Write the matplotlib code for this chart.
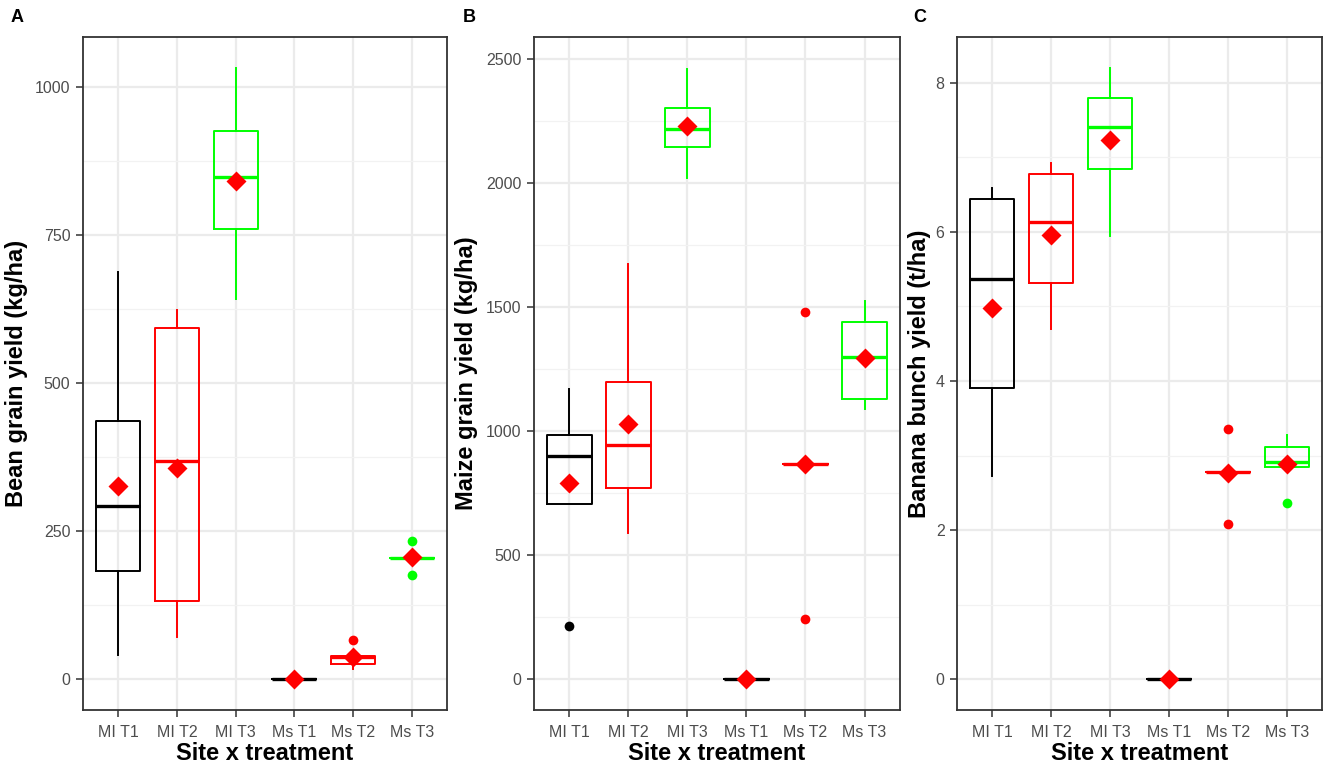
import matplotlib.pyplot as plt
from matplotlib.ticker import MultipleLocator

plt.rcParams['font.family'] = ['Liberation Sans', 'DejaVu Sans']

groups = ['MI T1', 'MI T2', 'MI T3', 'Ms T1', 'Ms T2', 'Ms T3']
colors = ['black', '#FF0000', '#00FF00', 'black', '#FF0000', '#00FF00']

# Panel A - bean grain yield (kg/ha)
bean_whislo = [41, 72, 642, 0, 17, 205]
bean_q1 = [182, 132, 760, 0, 25, 205]
bean_med = [292, 369, 848, 0, 38, 205]
bean_q3 = [435, 592, 925, 0, 39, 205]
bean_whishi = [688, 624, 1031, 0, 39, 205]
bean_mean = [326, 356, 841, 0, 37, 206]
bean_fliers = [[], [], [], [], [66], [234, 176]]

# Panel B - maize grain yield (kg/ha)
maize_whislo = [706, 589, 2022, 0, 868, 1087]
maize_q1 = [706, 771, 2144, 0, 868, 1128]
maize_med = [899, 943, 2219, 0, 868, 1298]
maize_q3 = [984, 1196, 2302, 0, 868, 1439]
maize_whishi = [1170, 1674, 2460, 0, 868, 1526]
maize_mean = [791, 1030, 2229, 0, 868, 1294]
maize_fliers = [[213], [], [], [], [1480, 241], []]

# Panel C - banana bunch yield (t/ha)
banana_whislo = [2.73, 4.70, 5.94, 0, 2.78, 2.85]
banana_q1 = [3.91, 5.31, 6.84, 0, 2.78, 2.85]
banana_med = [5.36, 6.13, 7.41, 0, 2.78, 2.91]
banana_q3 = [6.44, 6.78, 7.79, 0, 2.78, 3.11]
banana_whishi = [6.59, 6.92, 8.19, 0, 2.78, 3.27]
banana_mean = [4.98, 5.96, 7.23, 0, 2.76, 2.89]
banana_fliers = [[], [], [], [], [3.35, 2.08], [2.37]]


def draw_panel(ax, whislo, q1, med, q3, whishi, mean, fliers, ylab, ylim, major, minor):
    stats = []
    for i in range(len(groups)):
        stats.append(dict(whislo=whislo[i], q1=q1[i], med=med[i], q3=q3[i],
                          whishi=whishi[i], mean=mean[i], fliers=fliers[i]))
    pos = list(range(1, len(groups) + 1))
    art = ax.bxp(stats, positions=pos, widths=0.75, showcaps=False, showmeans=True,
                 boxprops=dict(linewidth=1.4),
                 whiskerprops=dict(linewidth=1.4),
                 medianprops=dict(linewidth=2.4),
                 meanprops=dict(marker='D', markerfacecolor='#FF0000',
                                markeredgecolor='none', markersize=10),
                 flierprops=dict(marker='o', markeredgecolor='none', markersize=7))
    for i, c in enumerate(colors):
        art['boxes'][i].set_color(c)
        art['medians'][i].set_color(c)
        art['whiskers'][2 * i].set_color(c)
        art['whiskers'][2 * i + 1].set_color(c)
        art['fliers'][i].set_markerfacecolor(c)
    for m in art['means']:
        m.set_zorder(5)

    ax.set_xlim(0.4, 6.6)
    ax.set_ylim(*ylim)
    ax.set_xticks(pos)
    ax.set_xticklabels(groups)
    ax.yaxis.set_major_locator(MultipleLocator(major))
    ax.yaxis.set_minor_locator(MultipleLocator(minor))
    ax.grid(True, which='major', color='#EBEBEB', linewidth=1.6)
    ax.grid(True, which='minor', axis='y', color='#F2F2F2', linewidth=0.9)
    ax.set_axisbelow(True)
    ax.tick_params(which='major', direction='out', length=5, width=1.1,
                   color='#333333', labelsize=11.5, labelcolor='#4D4D4D', pad=4)
    ax.tick_params(axis='x', pad=6)
    ax.tick_params(which='minor', length=0)
    for s in ax.spines.values():
        s.set_color('#333333')
        s.set_linewidth(1.3)
    ax.set_ylabel(ylab, fontsize=17, fontweight='bold')
    ax.set_xlabel('Site x treatment', fontsize=17, fontweight='bold')


fig = plt.figure(figsize=(13.25, 7.69), dpi=100)
ax1 = fig.add_axes([0.0626, 0.0767, 0.2747, 0.8752])
ax2 = fig.add_axes([0.4030, 0.0767, 0.2762, 0.8752])
ax3 = fig.add_axes([0.7223, 0.0767, 0.2755, 0.8752])

draw_panel(ax1, bean_whislo, bean_q1, bean_med, bean_q3, bean_whishi, bean_mean,
           bean_fliers, 'Bean grain yield (kg/ha)', (-52, 1084), 250, 125)
draw_panel(ax2, maize_whislo, maize_q1, maize_med, maize_q3, maize_whishi, maize_mean,
           maize_fliers, 'Maize grain yield (kg/ha)', (-125, 2589), 500, 250)
draw_panel(ax3, banana_whislo, banana_q1, banana_med, banana_q3, banana_whishi, banana_mean,
           banana_fliers, 'Banana bunch yield (t/ha)', (-0.41, 8.61), 2, 1)

ax1.yaxis.set_label_coords(-0.152, 0.5)
ax2.yaxis.set_label_coords(-0.152, 0.5)
ax3.yaxis.set_label_coords(-0.072, 0.5)
for ax in (ax1, ax2, ax3):
    ax.xaxis.set_label_coords(0.5, -0.048)

fig.text(17 / 1325, 1 - 17 / 769, 'A', fontsize=13, fontweight='bold', ha='center', va='center')
fig.text(469 / 1325, 1 - 17 / 769, 'B', fontsize=13, fontweight='bold', ha='center', va='center')
fig.text(920 / 1325, 1 - 17 / 769, 'C', fontsize=13, fontweight='bold', ha='center', va='center')

fig.savefig('out.png', dpi=100)
